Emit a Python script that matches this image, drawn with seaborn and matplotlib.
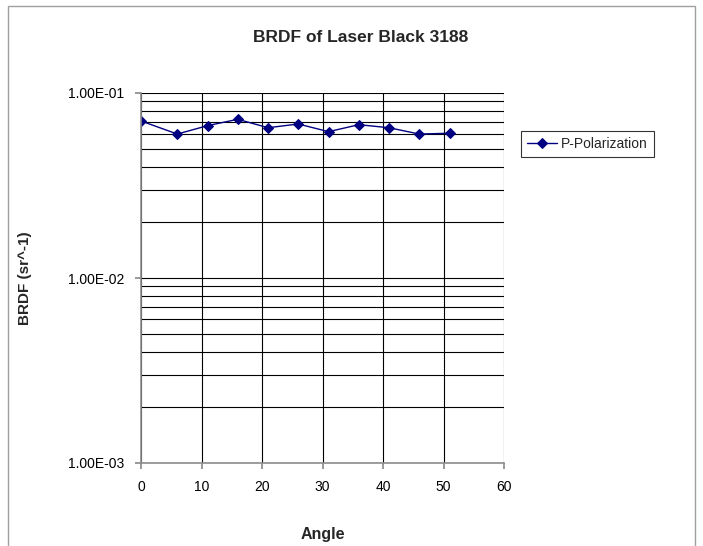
import matplotlib
matplotlib.use("Agg")
import matplotlib.pyplot as plt
import seaborn as sns
import pandas as pd
from matplotlib.ticker import LogLocator, FixedLocator, NullFormatter
from matplotlib.patches import Rectangle

angles = [0, 6, 11, 16, 21, 26, 31, 36, 41, 46, 51]
brdf = [0.0706, 0.0600, 0.0666, 0.0721, 0.0649, 0.0680, 0.0618, 0.0674, 0.0649, 0.0600, 0.0606]
series_name = "P-Polarization"
y_ticks = [1e-3, 1e-2, 1e-1]
y_tick_labels = ["1.00E-03", "1.00E-02", "1.00E-01"]
x_ticks = [0, 10, 20, 30, 40, 50, 60]

df = pd.DataFrame({"Angle": angles, "BRDF": brdf, "Series": series_name})

sns.set_theme(style="white")
plt.rcParams['font.family'] = ['Liberation Sans Narrow', 'Liberation Sans', 'DejaVu Sans']

fig = plt.figure(figsize=(7.03, 5.46), dpi=100)
ax = fig.add_axes([141/703, 1 - 463/546, (504 - 141)/703, (463 - 93)/546])

fig.patches.append(Rectangle((8/703, -0.1), (695 - 8)/703, 1.1 - 6/546, transform=fig.transFigure,
                             fill=False, edgecolor="#A0A0A0", linewidth=1.0))

sns.lineplot(data=df, x="Angle", y="BRDF", hue="Series", palette=["#000080"], marker="D",
             markersize=5.5, markeredgecolor="#000080", linewidth=1.0, ax=ax)

ax.set_yscale("log")
ax.set_ylim(1e-3, 1e-1)
ax.set_xlim(0, 60)
ax.xaxis.set_major_locator(FixedLocator(x_ticks))
ax.yaxis.set_major_locator(FixedLocator(y_ticks))
ax.set_yticklabels(y_tick_labels)
ax.yaxis.set_minor_locator(LogLocator(base=10, subs=range(2, 10)))
ax.yaxis.set_minor_formatter(NullFormatter())

ax.grid(True, which="major", axis="both", color="black", linewidth=0.8)
ax.grid(True, which="minor", axis="y", color="black", linewidth=0.8)
ax.set_axisbelow(True)

for s in ["top", "right"]:
    ax.spines[s].set_visible(False)
for s in ["left", "bottom"]:
    ax.spines[s].set_color("#8C8C8C")
    ax.spines[s].set_linewidth(1.2)

ax.tick_params(axis="both", which="major", direction="out", length=4, color="#8C8C8C",
               labelsize=10, colors="black", bottom=True, left=True, pad=8)
ax.tick_params(axis="y", which="minor", left=False)

ax.set_xlabel("Angle", fontsize=11.5, fontweight="bold", labelpad=24)
ax.set_ylabel("BRDF (sr^-1)", fontsize=11, fontweight="bold", labelpad=26)
fig.text(361/703, 1 - 38/546, "BRDF of Laser Black 3188", ha="center", va="center",
         fontsize=12.5, fontweight="bold")

leg = ax.legend(loc="center left", bbox_to_anchor=(521/703, 1 - 144/546), bbox_transform=fig.transFigure,
                frameon=True, fancybox=False, fontsize=10, handlelength=2.2, handletextpad=0.3,
                borderpad=0.4, borderaxespad=0)
leg.get_frame().set_edgecolor("black")
leg.get_frame().set_linewidth(0.8)

fig.savefig("out.png", dpi=100)
